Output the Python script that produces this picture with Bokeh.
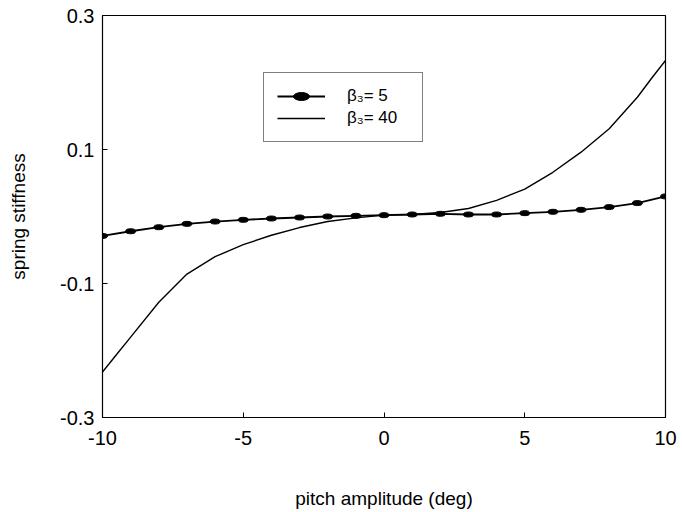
from bokeh.plotting import figure
from bokeh.models import Range1d, FixedTicker, Legend, LegendItem, CustomJSTickFormatter
from bokeh.embed import file_html
from bokeh.resources import INLINE

# ---- data ----
x_beta5 = [-10, -9, -8, -7, -6, -5, -4, -3, -2, -1, 0, 1, 2, 3, 4, 5, 6, 7, 8, 9, 10]
k_beta5 = [-0.029, -0.022, -0.016, -0.011, -0.0075, -0.005, -0.003, -0.0015, 0.000, 0.001,
           0.002, 0.003, 0.004, 0.003, 0.003, 0.005, 0.007, 0.010, 0.014, 0.020, 0.030]

x_beta40 = [-10, -9.5, -9, -8, -7, -6, -5, -4, -3, -2, -1, 0, 1, 2, 3, 4, 5, 6, 7, 8, 9, 9.5, 10]
k_beta40 = [-0.232, -0.206, -0.180, -0.128, -0.086, -0.060, -0.042, -0.028, -0.0165, -0.0075,
            -0.002, 0.002, 0.003, 0.006, 0.012, 0.024, 0.041, 0.066, 0.096, 0.131, 0.178,
            0.206, 0.233]

x_ticks = [-10, -5, 0, 5, 10]
y_ticks = [-0.3, -0.1, 0.1, 0.3]
label_beta5 = "β₃= 5"
label_beta40 = "β₃= 40"
x_title = "pitch amplitude (deg)"
y_title = "spring stiffness"

FONT = "Liberation Sans"

p = figure(width=682, height=512, output_backend="svg", toolbar_location=None,
           x_range=Range1d(-10, 10), y_range=Range1d(-0.3, 0.3),
           min_border_left=102, min_border_right=17, min_border_top=15,
           min_border_bottom=95)
p.background_fill_color = "white"
p.border_fill_color = "white"
p.outline_line_color = "black"
p.outline_line_width = 1.2
p.grid.visible = False

for ax in (p.xaxis[0], p.yaxis[0]):
    ax.axis_line_color = "black"
    ax.major_tick_in = 5
    ax.major_tick_out = 0
    ax.minor_tick_line_color = None
    ax.major_label_text_font = FONT
    ax.major_label_text_font_size = "20px"
    ax.major_label_text_color = "black"
    ax.axis_label_text_font = FONT
    ax.axis_label_text_font_size = "19px"
    ax.axis_label_text_font_style = "normal"
    ax.axis_label_text_color = "black"

p.xaxis[0].ticker = FixedTicker(ticks=x_ticks)
p.yaxis[0].ticker = FixedTicker(ticks=y_ticks)
p.xaxis[0].formatter = CustomJSTickFormatter(code="return tick.toFixed(0);")
p.yaxis[0].formatter = CustomJSTickFormatter(code="return tick.toFixed(1);")
p.xaxis[0].axis_label = x_title
p.yaxis[0].axis_label = y_title
p.xaxis[0].major_label_standoff = 13
p.yaxis[0].major_label_standoff = 8
p.xaxis[0].axis_label_standoff = 40
p.yaxis[0].axis_label_standoff = 28

# curves
r40 = p.line(x_beta40, k_beta40, line_color="black", line_width=1.4)
r5l = p.line(x_beta5, k_beta5, line_color="black", line_width=1.8)
r5m = p.ellipse(x=x_beta5, y=k_beta5, width=10, height=5,
                width_units="screen", height_units="screen",
                fill_color="black", line_color="black")

legend = Legend(items=[LegendItem(label=label_beta5, renderers=[r5l, r5m]),
                       LegendItem(label=label_beta40, renderers=[r40])],
                location=(161, 275),
                border_line_color="black", border_line_width=1,
                background_fill_alpha=1.0,
                padding=13, spacing=2, margin=0,
                glyph_width=48, glyph_height=20, label_height=20,
                label_width=62, label_standoff=22,
                label_text_font=FONT, label_text_font_size="17px",
                label_text_color="black")
p.add_layout(legend, "center")

open("out.html", "w").write(file_html(p, INLINE))
